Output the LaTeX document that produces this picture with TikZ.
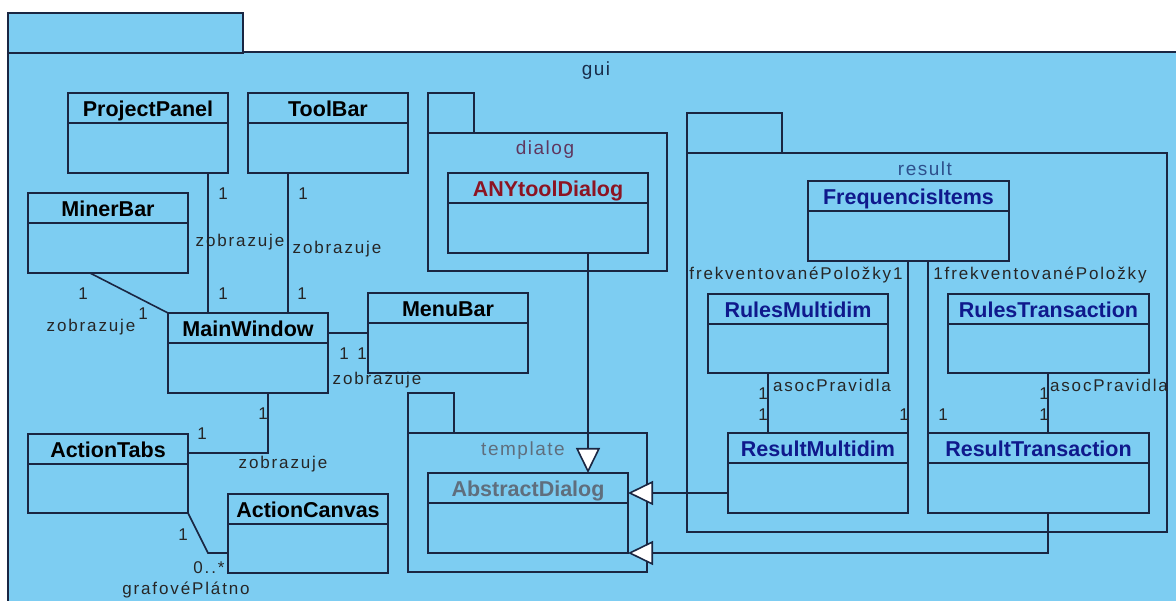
\documentclass[tikz,border=0pt]{standalone}
\usepackage{fontspec}
\setmainfont{Liberation Sans}
\newfontfamily\lblfont[LetterSpace=11]{Liberation Sans}
\newfontfamily\pkgfont[LetterSpace=8]{Liberation Sans}
\usetikzlibrary{arrows.meta}
\definecolor{bg}{RGB}{125,205,242}
\definecolor{ln}{RGB}{26,38,66}
\definecolor{dlgred}{RGB}{140,20,35}
\definecolor{dlglbl}{RGB}{95,55,95}
\definecolor{resblue}{RGB}{15,25,140}
\definecolor{reslbl}{RGB}{45,80,140}
\definecolor{tplgray}{RGB}{95,110,125}
\definecolor{guilbl}{RGB}{25,45,75}
\tikzset{
  outline/.style={draw=ln, line width=1.6pt},
  cls/.style={outline, fill=bg, rectangle, inner sep=0pt, outer sep=0pt, anchor=north west, minimum height=80pt},
  pkgbox/.style={outline, fill=bg, rectangle, inner sep=0pt, outer sep=0pt, anchor=north west},
  ctitle/.style={anchor=base, inner sep=0pt, font=\fontsize{21.5}{25}\selectfont\bfseries},
  plabel/.style={anchor=base, inner sep=0pt, font=\fontsize{19}{22}\selectfont\pkgfont},
  mlabel/.style={anchor=base, inner sep=0pt, text=black!85, font=\fontsize{17}{20}\selectfont\lblfont},
  assoc/.style={outline},
  gen/.style={outline, -{Triangle[length=25pt, width=24pt, fill=white, line width=1.6pt]}},
}
\newcommand{\hdr}[1]{\draw[outline] ([yshift=-30pt]#1.north west) -- ([yshift=-30pt]#1.north east);}
\begin{document}
\begin{tikzpicture}[x=1pt, y=-1pt]
\useasboundingbox (0,0) rectangle (1176,601);
\clip (0,0) rectangle (1176,601);
\fill[white] (0,0) rectangle (1176,601);
% gui package
\node[pkgbox, minimum width=1180pt, minimum height=560pt] (guibody) at (8,52) {};
\node[pkgbox, minimum width=235pt, minimum height=40pt] (guitab) at (8,13) {};
\node[plabel, text=guilbl] (guilbl) at (596,76) {gui};
% dialog package
\node[pkgbox, minimum width=46pt, minimum height=40pt] (dlgtab) at (428,93) {};
\node[pkgbox, minimum width=239pt, minimum height=138pt] (dlgbody) at (428,133) {};
\node[plabel, text=dlglbl] (dlglbl) at (545,155) {dialog};
% template package
\node[pkgbox, minimum width=46pt, minimum height=40pt] (tpltab) at (408,393) {};
\node[pkgbox, minimum width=239pt, minimum height=139pt] (tplbody) at (408,433) {};
\node[plabel, text=tplgray] (tpllbl) at (523,456) {template};
% result package
\node[pkgbox, minimum width=95pt, minimum height=40pt] (restab) at (687,113) {};
\node[pkgbox, minimum width=480pt, minimum height=379pt] (resbody) at (687,153) {};
\node[plabel, text=reslbl] (reslbl) at (925,176) {result};

% classes
\node[cls, minimum width=160pt] (pp) at (68,93) {}; \hdr{pp}
\node[ctitle] at ([yshift=-23.5pt]pp.north) {ProjectPanel};
\node[cls, minimum width=160pt] (tb) at (248,93) {}; \hdr{tb}
\node[ctitle] at ([yshift=-23.5pt]tb.north) {ToolBar};
\node[cls, minimum width=160pt] (mb) at (28,193) {}; \hdr{mb}
\node[ctitle] at ([yshift=-23.5pt]mb.north) {MinerBar};
\node[cls, minimum width=160pt] (mw) at (168,313) {}; \hdr{mw}
\node[ctitle] at ([yshift=-23.5pt]mw.north) {MainWindow};
\node[cls, minimum width=160pt] (menu) at (368,293) {}; \hdr{menu}
\node[ctitle] at ([yshift=-23.5pt]menu.north) {MenuBar};
\node[cls, minimum width=160pt, minimum height=79pt] (at) at (28,434) {}; \hdr{at}
\node[ctitle] at ([yshift=-23.5pt]at.north) {ActionTabs};
\node[cls, minimum width=160pt, minimum height=79pt] (ac) at (228,494) {}; \hdr{ac}
\node[ctitle] at ([yshift=-23.5pt]ac.north) {ActionCanvas};
\node[cls, minimum width=200pt] (any) at (448,173) {}; \hdr{any}
\node[ctitle, text=dlgred] at ([yshift=-23.5pt]any.north) {ANYtoolDialog};
\node[cls, minimum width=200pt] (ad) at (428,473) {}; \hdr{ad}
\node[ctitle, text=tplgray] at ([yshift=-23.5pt]ad.north) {AbstractDialog};
\node[cls, minimum width=201pt] (fi) at (808,181) {}; \hdr{fi}
\node[ctitle, text=resblue] at ([yshift=-23.5pt]fi.north) {FrequencisItems};
\node[cls, minimum width=180pt, minimum height=79pt] (rmu) at (708,294) {}; \hdr{rmu}
\node[ctitle, text=resblue] at ([yshift=-23.5pt]rmu.north) {RulesMultidim};
\node[cls, minimum width=201pt, minimum height=79pt] (rtr) at (948,294) {}; \hdr{rtr}
\node[ctitle, text=resblue] at ([yshift=-23.5pt]rtr.north) {RulesTransaction};
\node[cls, minimum width=180pt] (rm) at (728,433) {}; \hdr{rm}
\node[ctitle, text=resblue] at ([yshift=-23.5pt]rm.north) {ResultMultidim};
\node[cls, minimum width=221pt] (rt) at (928,433) {}; \hdr{rt}
\node[ctitle, text=resblue] at ([yshift=-23.5pt]rt.north) {ResultTransaction};

% associations
\draw[assoc] ([xshift=140pt]pp.south west) -- ([xshift=40pt]mw.north west);
\draw[assoc] ([xshift=40pt]tb.south west) -- ([xshift=120pt]mw.north west);
\draw[assoc] ([xshift=62pt]mb.south west) -- (mw.north west);
\draw[assoc] ([yshift=-20pt]mw.north east) -- ([yshift=-40pt]menu.north west);
\draw[assoc] ([xshift=100pt]mw.south west) |- ([yshift=-19pt]at.north east);
\draw[assoc] (at.south east) -- ([xshift=-20pt,yshift=-59pt]ac.north west) -- ([yshift=-59pt]ac.north west);
\draw[assoc] ([xshift=100pt]fi.south west) -- (rm.north east);
\draw[assoc] ([xshift=120pt]fi.south west) -- (rt.north west);
\draw[assoc] ([xshift=60pt]rmu.south west) -- ([xshift=40pt]rm.north west);
\draw[assoc] ([xshift=100pt]rtr.south west) -- ([xshift=120pt]rt.north west);
% generalizations
\draw[gen] ([xshift=140pt]any.south west) -- ([xshift=160pt]ad.north west);
\draw[gen] ([yshift=-60pt]rm.north west) -- ([yshift=-20pt]ad.north east);
\draw[gen] ([xshift=120pt]rt.south west) |- (ad.south east);

% labels
\node[mlabel] at (223,200) {1};
\node[mlabel] at (240,247) {zobrazuje};
\node[mlabel] at (223,300) {1};
\node[mlabel] at (303,200) {1};
\node[mlabel] at (337,254) {zobrazuje};
\node[mlabel] at (302,300) {1};
\node[mlabel] at (83,300) {1};
\node[mlabel] at (143,320) {1};
\node[mlabel] at (91,332) {zobrazuje};
\node[mlabel] at (344,360) {1};
\node[mlabel] at (362,360) {1};
\node[mlabel] at (377,385) {zobrazuje};
\node[mlabel] at (263,420) {1};
\node[mlabel] at (202,440) {1};
\node[mlabel] at (283,468) {zobrazuje};
\node[mlabel] at (183,540) {1};
\node[mlabel] at (209,573) {0..*};
\node[mlabel] at (186,594) {grafovéPlátno};
\node[mlabel] at (796,280) {frekventovanéPoložky1};
\node[mlabel] at (1040,280) {1frekventovanéPoložky};
\node[mlabel] at (763,400) {1};
\node[mlabel] at (763,421) {1};
\node[mlabel] at (832,392) {asocPravidla};
\node[mlabel] at (904,421) {1};
\node[mlabel] at (943,421) {1};
\node[mlabel] at (1044,400) {1};
\node[mlabel] at (1044,421) {1};
\node[mlabel] at (1109,392) {asocPravidla};
\end{tikzpicture}
\end{document}
